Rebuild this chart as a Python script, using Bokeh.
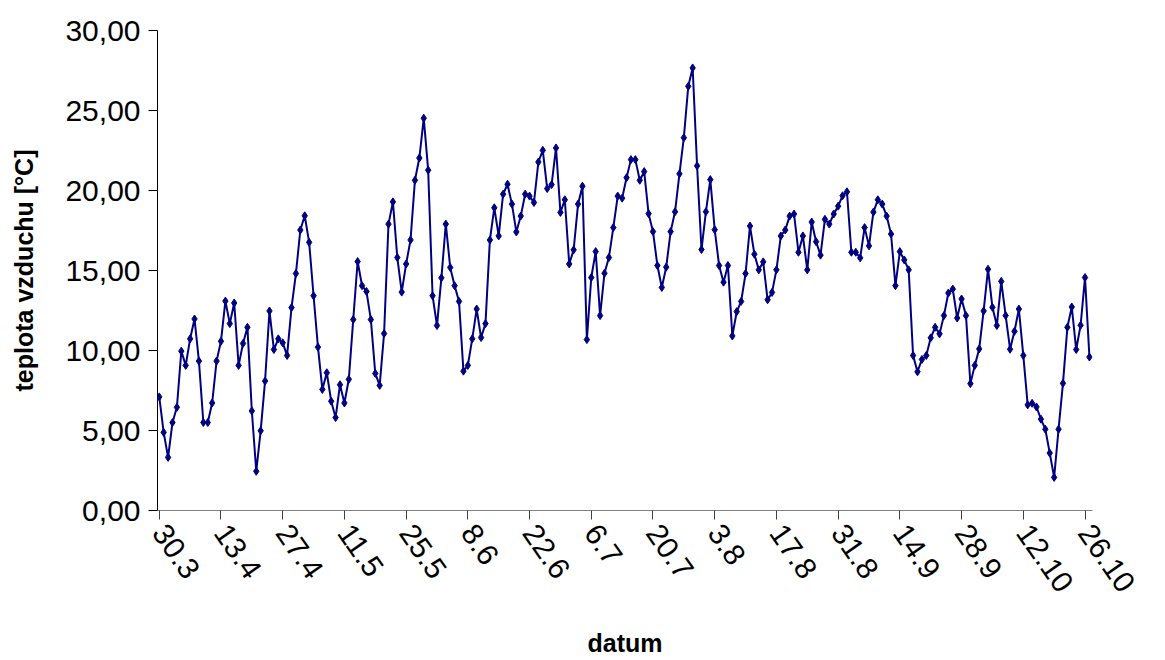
import math

from bokeh.plotting import figure
from bokeh.models import Range1d, FixedTicker
from bokeh.embed import file_html
from bokeh.resources import INLINE

# Daily air temperature, one value per day starting on 30.3
teplota = [
    7.10, 4.88, 3.32, 5.50, 6.45, 9.96, 9.07, 10.73, 11.97, 9.34,
    5.50, 5.50, 6.72, 9.34, 10.58, 13.09, 11.68, 12.97, 9.07, 10.44,
    11.45, 6.22, 2.45, 4.98, 8.09, 12.47, 10.06, 10.73, 10.48, 9.69,
    12.68, 14.81, 17.53, 18.42, 16.76, 13.42, 10.21, 7.57, 8.61, 6.83,
    5.81, 7.86, 6.72, 8.20, 11.93, 15.56, 14.05, 13.69, 11.93, 8.57,
    7.82, 11.06, 17.90, 19.29, 15.81, 13.65, 15.41, 16.91, 20.64, 22.03,
    24.52, 21.27, 13.42, 11.56, 14.54, 17.90, 15.19, 14.05, 13.07, 8.71,
    9.07, 10.73, 12.59, 10.81, 11.68, 16.91, 18.92, 17.16, 19.77, 20.39,
    19.15, 17.41, 18.40, 19.77, 19.65, 19.25, 21.78, 22.51, 20.12, 20.37,
    22.66, 18.63, 19.42, 15.41, 16.29, 19.15, 20.27, 10.68, 14.56, 16.18,
    12.18, 14.83, 15.81, 17.68, 19.65, 19.52, 20.80, 21.93, 21.93, 20.64,
    21.18, 18.55, 17.43, 15.31, 13.94, 15.21, 17.43, 18.67, 21.04, 23.30,
    26.51, 27.66, 21.54, 16.31, 18.67, 20.68, 17.55, 15.31, 14.27, 15.31,
    10.91, 12.43, 13.07, 14.81, 17.78, 16.02, 15.04, 15.54, 13.17, 13.63,
    15.04, 17.16, 17.53, 18.40, 18.53, 16.14, 17.16, 15.04, 18.03, 16.80,
    15.96, 18.20, 17.90, 18.53, 19.02, 19.67, 19.92, 16.14, 16.14, 15.79,
    17.68, 16.54, 18.65, 19.42, 19.15, 18.40, 17.28, 14.05, 16.18, 15.66,
    15.04, 9.69, 8.67, 9.44, 9.69, 10.79, 11.45, 11.04, 12.18, 13.59,
    13.84, 12.03, 13.22, 12.18, 7.93, 9.07, 10.10, 12.47, 15.08, 12.70,
    11.56, 14.32, 12.18, 10.08, 11.20, 12.59, 9.69, 6.60, 6.70, 6.47,
    5.71, 5.08, 3.59, 2.07, 5.08, 7.95, 11.45, 12.72, 10.06, 11.58,
    14.56, 9.59,
]
den = list(range(len(teplota)))

datum_labels = ["30.3", "13.4", "27.4", "11.5", "25.5", "8.6", "22.6", "6.7",
                "20.7", "3.8", "17.8", "31.8", "14.9", "28.9", "12.10", "26.10"]
datum_ticks = list(range(0, 14 * len(datum_labels), 14))

teplota_labels = ["0,00", "5,00", "10,00", "15,00", "20,00", "25,00", "30,00"]
teplota_ticks = [0, 5, 10, 15, 20, 25, 30]

NAVY = "#000080"
FONT = "Liberation Sans"

p = figure(
    width=1165, height=660,
    output_backend="svg", toolbar_location=None,
    x_range=Range1d(-0.4, 211.7), y_range=Range1d(0, 30),
    min_border_left=157, min_border_right=73,
    min_border_top=30, min_border_bottom=148,
)
p.outline_line_color = None
p.background_fill_color = "white"
p.border_fill_color = "white"
p.xgrid.visible = False
p.ygrid.visible = False

p.line(den, teplota, line_color=NAVY, line_width=2)
p.scatter(den, teplota, marker="diamond", size=8, color=NAVY)

yax = p.yaxis[0]
yax.ticker = FixedTicker(ticks=teplota_ticks)
yax.major_label_overrides = dict(zip(teplota_ticks, teplota_labels))
yax.minor_tick_line_color = None
yax.major_tick_in = 0
yax.major_tick_out = 9
yax.axis_line_color = "black"
yax.major_tick_line_color = "black"
yax.major_label_text_font = FONT
yax.major_label_text_font_size = "30px"
yax.major_label_text_color = "black"
yax.major_label_standoff = 8
yax.axis_label = "teplota vzduchu [°C]"
yax.axis_label_text_font = FONT
yax.axis_label_text_font_style = "bold"
yax.axis_label_text_font_size = "25px"
yax.axis_label_text_color = "black"
yax.axis_label_standoff = 24

xax = p.xaxis[0]
xax.ticker = FixedTicker(ticks=datum_ticks)
xax.major_label_overrides = dict(zip(datum_ticks, datum_labels))
xax.minor_tick_line_color = None
xax.major_tick_in = 0
xax.major_tick_out = 9
xax.axis_line_color = "#808080"
xax.major_tick_line_color = "#404040"
xax.major_label_orientation = -math.radians(55)
xax.major_label_text_font = FONT
xax.major_label_text_font_size = "30px"
xax.major_label_text_color = "black"
xax.major_label_standoff = 8
xax.axis_label = "datum"
xax.axis_label_text_font = FONT
xax.axis_label_text_font_style = "bold"
xax.axis_label_text_font_size = "25px"
xax.axis_label_text_color = "black"
xax.axis_label_standoff = 26

open("out.html", "w").write(file_html(p, INLINE))
